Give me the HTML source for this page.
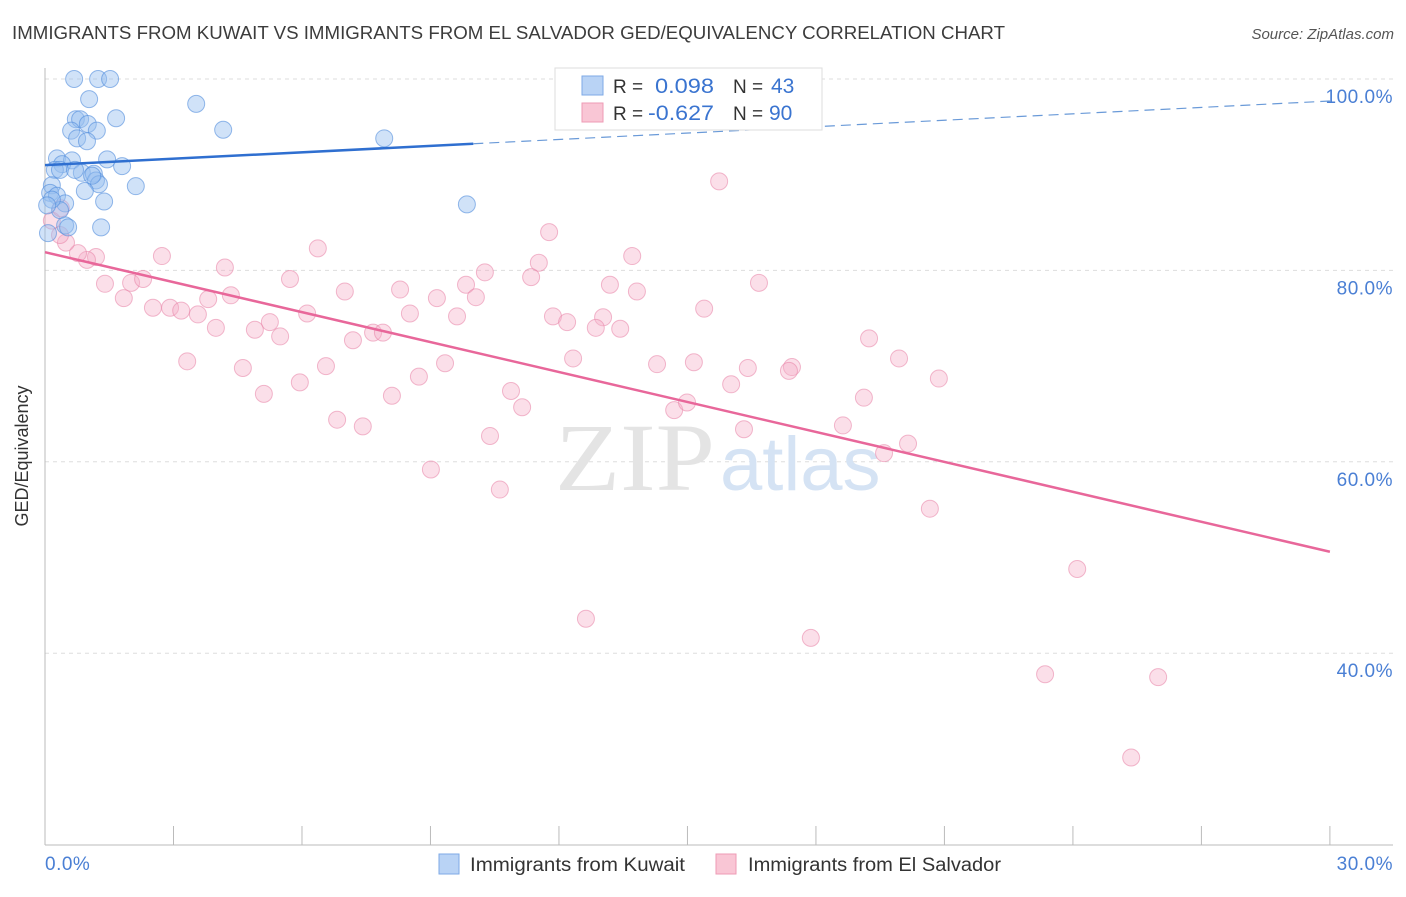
<!DOCTYPE html>
<html><head><meta charset="utf-8"><style>
body{margin:0;background:#fff;font-family:"Liberation Sans",sans-serif;}
svg text{font-family:"Liberation Sans",sans-serif;}
</style></head><body>
<svg id="chart" width="1406" height="892" xmlns="http://www.w3.org/2000/svg">
<text x="12" y="39" font-size="18" fill="#3c3c3c" textLength="993" lengthAdjust="spacingAndGlyphs">IMMIGRANTS FROM KUWAIT VS IMMIGRANTS FROM EL SALVADOR GED/EQUIVALENCY CORRELATION CHART</text>
<text x="1394" y="39" font-size="15" fill="#555" font-style="italic" text-anchor="end">Source: ZipAtlas.com</text>
<g id="grid"></g>
<g id="axes"></g>
<text x="555" y="490" font-size="96" fill="#e4e4e4" textLength="160" lengthAdjust="spacingAndGlyphs" style="font-family:'Liberation Serif',serif">ZIP</text>
<text x="720" y="490" font-size="76" fill="#d5e3f4">atlas</text>
<g id="pts"></g>
<g id="lines"></g>
<text x="28" y="456" font-size="18" fill="#333" text-anchor="middle" transform="rotate(-90 28 456)">GED/Equivalency</text>
<g>
<rect x="555" y="68" width="267" height="62" fill="#fff" stroke="#ddd"/>
<rect x="582" y="76" width="21" height="19" fill="#b9d3f5" stroke="#7eaae6"/>
<rect x="582" y="103" width="21" height="19" fill="#f9c6d5" stroke="#ee9bb5"/>
<text x="613" y="93" font-size="19" fill="#333">R = </text>
<text x="655" y="93" font-size="21" fill="#3a74d0" textLength="59" lengthAdjust="spacingAndGlyphs">0.098</text>
<text x="733" y="93" font-size="19" fill="#333">N = </text>
<text x="771" y="93" font-size="21" fill="#3a74d0">43</text>
<text x="613" y="120" font-size="19" fill="#333">R = </text>
<text x="648" y="120" font-size="21" fill="#3a74d0" textLength="66" lengthAdjust="spacingAndGlyphs">-0.627</text>
<text x="733" y="120" font-size="19" fill="#333">N = </text>
<text x="769" y="120" font-size="21" fill="#3a74d0">90</text>
</g>
<g>
<rect x="439" y="854" width="20" height="20" fill="#b9d3f5" stroke="#7eaae6"/>
<text x="470" y="871" font-size="19" fill="#333" textLength="215" lengthAdjust="spacingAndGlyphs">Immigrants from Kuwait</text>
<rect x="716" y="854" width="20" height="20" fill="#f9c6d5" stroke="#ee9bb5"/>
<text x="748" y="871" font-size="19" fill="#333" textLength="253" lengthAdjust="spacingAndGlyphs">Immigrants from El Salvador</text>
</g>
</svg>
<script>
const yTicks=[100,80,60,40];
const yTickLabels=["100.0%","80.0%","60.0%","40.0%"];
const xLabels=["0.0%","30.0%"];
const kuwaitX=[0.68,1.24,1.52,1.03,3.53,1.66,0.72,0.82,1.0,0.61,1.21,4.16,0.75,0.98,7.92,0.28,0.63,0.40,1.45,1.80,0.23,0.86,1.14,1.19,1.26,2.12,0.16,0.93,0.12,0.28,0.47,1.38,0.35,9.85,0.47,0.54,1.31,0.07,0.16,1.10,0.35,0.05,0.70];
const kuwaitY=[100,100,100,97.9,97.4,95.9,95.8,95.8,95.3,94.6,94.6,94.7,93.8,93.5,93.8,91.7,91.5,91.1,91.6,90.9,90.5,90.2,90.1,89.4,89.0,88.8,88.9,88.3,88.1,87.8,87.0,87.2,86.3,86.9,84.7,84.5,84.5,83.9,87.4,89.9,90.5,86.8,90.5];
const salvX=[15.74,11.77,6.37,13.71,2.73,11.53,10.27,4.20,5.72,11.35,16.67,2.01,1.40,2.29,13.19,13.82,7.0,8.29,9.83,4.34,10.06,9.15,1.84,3.81,2.52,2.92,3.18,3.57,6.12,8.52,9.62,11.86,15.39,12.19,13.03,12.86,13.43,5.25,4.90,5.49,3.99,7.66,7.89,7.19,19.24,3.32,12.33,14.29,15.15,19.94,4.62,6.56,9.34,16.41,17.44,17.37,20.87,5.95,8.73,16.02,5.11,8.10,10.88,19.12,11.14,14.69,14.99,6.82,7.42,16.32,18.63,10.39,20.15,19.59,9.01,10.62,20.66,24.10,12.63,17.88,23.35,25.99,25.36,1.19,0.98,0.77,0.49,0.35,0.16,0.37];
const salvY=[89.3,84.0,82.3,81.5,81.5,80.8,79.8,80.3,79.1,79.3,78.7,78.7,78.6,79.1,78.5,77.8,77.8,78.0,78.5,77.4,77.2,77.1,77.1,77.0,76.1,76.1,75.8,75.4,75.5,75.5,75.2,75.2,76.0,74.6,75.1,74.0,73.9,74.6,73.8,73.1,74.0,73.5,73.5,72.7,72.9,70.5,70.8,70.2,70.4,70.8,69.8,70.0,70.3,69.8,69.9,69.5,68.7,68.3,68.9,68.1,67.1,66.9,67.4,66.7,65.7,65.4,66.2,64.4,63.7,63.4,63.8,62.7,61.9,60.9,59.2,57.1,55.1,48.8,43.6,41.6,37.8,37.5,29.1,81.4,81.1,81.8,82.9,83.7,85.2,86.5];
const kuwaitTrend=[91.0,97.7];
const salvTrend=[81.9,50.6];
const NS="http://www.w3.org/2000/svg";
const X=v=>45+v*42.83, Y=v=>79+(100-v)*9.57;
function mk(t,a,p){const e=document.createElementNS(NS,t);for(const k in a)e.setAttribute(k,a[k]);p.appendChild(e);return e;}
const grid=document.getElementById('grid'),axes=document.getElementById('axes'),pts=document.getElementById('pts'),lines=document.getElementById('lines');
yTicks.forEach((t,i)=>{
 const l=mk('line',{x1:45,x2:1393,y1:Y(t),y2:Y(t),stroke:'#ddd','stroke-dasharray':'4,4'},grid);
 
 
 const tx=mk('text',{x:1393,y:Y(t)+24,'font-size':19,fill:'#4a7fd4','text-anchor':'end','letter-spacing':'0.5'},axes);
 tx.textContent=yTickLabels[i];
 
 
});
mk('line',{x1:45,x2:45,y1:68,y2:845,stroke:'#bbb'},axes);
mk('line',{x1:45,x2:1393,y1:845,y2:845,stroke:'#bbb'},axes);
for(let i=0;i<=10;i++){const t=mk('line',{x1:X(i*3),x2:X(i*3),y1:826,y2:845,stroke:'#bbb'},axes);
 
 }
const xl0=mk('text',{x:45,y:870,'font-size':19,fill:'#4a7fd4','letter-spacing':'0.5'},axes);xl0.textContent=xLabels[0];


const xl1=mk('text',{x:1393,y:870,'font-size':19,fill:'#4a7fd4','text-anchor':'end','letter-spacing':'0.5'},axes);xl1.textContent=xLabels[1];


salvX.forEach((x,i)=>{const c=mk('circle',{cx:X(x),cy:Y(salvY[i]),r:8.5,fill:'rgba(246,176,200,0.4)',stroke:'rgba(232,130,165,0.55)','stroke-width':1},pts);
 
 });
kuwaitX.forEach((x,i)=>{const c=mk('circle',{cx:X(x),cy:Y(kuwaitY[i]),r:8.5,fill:'rgba(150,190,240,0.45)',stroke:'rgba(80,140,220,0.6)','stroke-width':1},pts);
 
 });
const kAt=x=>kuwaitTrend[0]+(kuwaitTrend[1]-kuwaitTrend[0])*x/30;
const k1=mk('line',{x1:X(0),y1:Y(kAt(0)),x2:X(10),y2:Y(kAt(10)),stroke:'#2f6fd0','stroke-width':2.5},lines);


const k2=mk('line',{x1:X(10),y1:Y(kAt(10)),x2:X(30),y2:Y(kAt(30)),stroke:'#6a9ad8','stroke-width':1.2,'stroke-dasharray':'10,6'},lines);


const s1=mk('line',{x1:X(0),y1:Y(salvTrend[0]),x2:X(30),y2:Y(salvTrend[1]),stroke:'#e8679a','stroke-width':2.5},lines);


</script>
</body></html>
